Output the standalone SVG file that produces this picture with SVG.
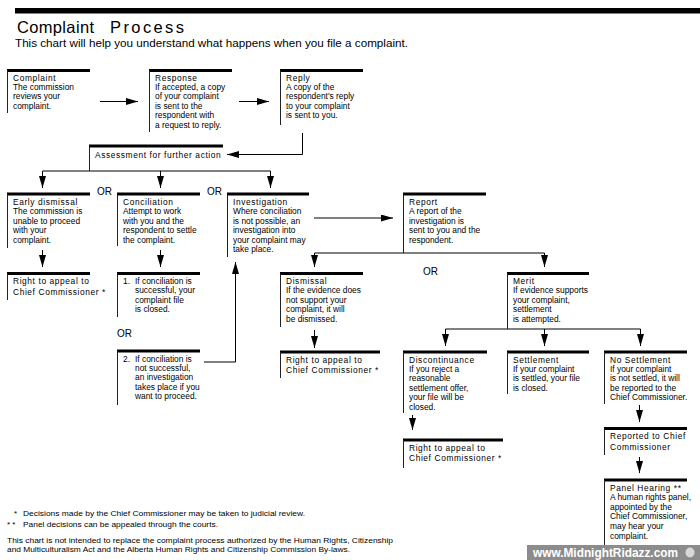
<svg xmlns="http://www.w3.org/2000/svg" width="700" height="560" viewBox="0 0 700 560">
<style>
.top{stroke:#000;stroke-width:3;fill:none}
.side{stroke:#222;stroke-width:1;fill:none}
.t{font-family:"Liberation Sans",Arial,sans-serif;font-size:8.4px;fill:#000}
.h{letter-spacing:0.6px}
.or{font-family:"Liberation Sans",Arial,sans-serif;font-size:10px;fill:#000}
.c{stroke:#000;stroke-width:1;fill:none}
.a{marker-end:url(#ah)}
.fn{font-family:"Liberation Sans",Arial,sans-serif;font-size:8px;fill:#000}
</style>
<defs>
<marker id="ah" markerWidth="12" markerHeight="7" refX="12" refY="3.5" orient="auto" markerUnits="userSpaceOnUse">
<path d="M0,0 L12,3.5 L0,7 z" fill="#000"/>
</marker>
</defs>
<rect width="700" height="560" fill="#fff"/>
<rect x="15" y="8" width="685" height="5.5" fill="#000"/>
<text x="17" y="32.5" font-family="'Liberation Sans',Arial,sans-serif" font-size="16.5" textLength="77" lengthAdjust="spacing">Complaint</text>
<text x="110" y="32.5" font-family="'Liberation Sans',Arial,sans-serif" font-size="16.5" textLength="74" lengthAdjust="spacing">Process</text>
<text x="15" y="46.5" font-family="'Liberation Sans',Arial,sans-serif" font-size="11" textLength="393" lengthAdjust="spacingAndGlyphs">This chart will help you understand what happens when you file a complaint.</text>

<g id="connectors">
<path class="c a" d="M100 101.5H138"/>
<path class="c a" d="M239 101.5H269"/>
<path class="c a" d="M302.5 133V154.5H227"/>
<path class="c" d="M42.5 171H270.5"/>
<path class="c a" d="M42.5 171V188"/>
<path class="c a" d="M160.5 171V188"/>
<path class="c a" d="M270.5 171V188"/>
<path class="c a" d="M42.5 250V267"/>
<path class="c a" d="M160.5 250V267"/>
<path class="c a" d="M204 362H235.5V262"/>
<path class="c a" d="M314 218H393"/>
<path class="c" d="M314.5 253H544.5"/>
<path class="c a" d="M314.5 253V267"/>
<path class="c a" d="M544.5 253V267"/>
<path class="c a" d="M314.5 330V348"/>
<path class="c" d="M445.5 329H640.5"/>
<path class="c a" d="M445.5 329V346"/>
<path class="c a" d="M544.5 329V346"/>
<path class="c a" d="M640.5 329V346"/>
<path class="c a" d="M412.5 415V430"/>
<path class="c a" d="M639.5 405V422"/>
<path class="c a" d="M639.5 457V473"/>
</g>

<g id="complaint">
<path class="top" d="M7 70.5H90"/><path class="side" d="M7.5 70.5V113"/>
<text class="t h" x="13" y="80.5">Complaint</text>
<text class="t"><tspan x="13" y="89.9">The commission</tspan><tspan x="13" y="99.3">reviews your</tspan><tspan x="13" y="108.7">complaint.</tspan></text>
</g>
<g id="response">
<path class="top" d="M149 70.5H232"/><path class="side" d="M149.5 70.5V132"/>
<text class="t h" x="155" y="80.5">Response</text>
<text class="t"><tspan x="155" y="89.9">If accepted, a copy</tspan><tspan x="155" y="99.3">of your complaint</tspan><tspan x="155" y="108.7">is sent to the</tspan><tspan x="155" y="118.1">respondent  with</tspan><tspan x="155" y="127.5">a request to reply.</tspan></text>
</g>
<g id="reply">
<path class="top" d="M280 70.5H363"/><path class="side" d="M280.5 70.5V125"/>
<text class="t h" x="286" y="80.5">Reply</text>
<text class="t"><tspan x="286" y="89.9">A copy of the</tspan><tspan x="286" y="99.3">respondent's reply</tspan><tspan x="286" y="108.7">to your complaint</tspan><tspan x="286" y="118.1">is sent to you.</tspan></text>
</g>
<g id="assessment">
<path class="top" d="M89 146H223"/><path class="side" d="M89.5 146V171"/>
<text class="t h" x="95" y="157.5">Assessment for further action</text>
</g>

<text class="or" x="97" y="195">OR</text>
<text class="or" x="207" y="195">OR</text>

<g id="early-dismissal">
<path class="top" d="M7 194H90"/><path class="side" d="M7.5 194V248"/>
<text class="t h" x="13" y="205">Early dismissal</text>
<text class="t"><tspan x="13" y="214.4">The commission is</tspan><tspan x="13" y="223.8">unable to proceed</tspan><tspan x="13" y="233.2">with  your</tspan><tspan x="13" y="242.6">complaint.</tspan></text>
</g>
<g id="conciliation">
<path class="top" d="M117 194H200"/><path class="side" d="M117.5 194V246"/>
<text class="t h" x="123" y="205">Conciliation</text>
<text class="t"><tspan x="123" y="214.4">Attempt to work</tspan><tspan x="123" y="223.8">with you and the</tspan><tspan x="123" y="233.2">respondent to settle</tspan><tspan x="123" y="242.6">the complaint.</tspan></text>
</g>
<g id="investigation">
<path class="top" d="M227 194H309"/><path class="side" d="M227.5 194V257"/>
<text class="t h" x="233" y="205">Investigation</text>
<text class="t"><tspan x="233" y="214.4">Where conciliation</tspan><tspan x="233" y="223.8">is not possible, an</tspan><tspan x="233" y="233.2">investigation into</tspan><tspan x="233" y="242.6">your complaint may</tspan><tspan x="233" y="252">take place.</tspan></text>
</g>
<g id="report">
<path class="top" d="M403 194H486"/><path class="side" d="M403.5 194V253"/>
<text class="t h" x="409" y="205">Report</text>
<text class="t"><tspan x="409" y="214.4">A report of the</tspan><tspan x="409" y="223.8">investigation is</tspan><tspan x="409" y="233.2">sent to you and the</tspan><tspan x="409" y="242.6">respondent.</tspan></text>
</g>

<g id="appeal-early">
<path class="top" d="M7 273.5H90"/><path class="side" d="M7.5 273.5V300"/>
<text class="t h" x="13" y="284">Right to appeal to</text>
<text class="t h" x="13" y="294.5">Chief Commissioner *</text>
</g>
<g id="conciliation-1">
<path class="top" d="M117 273.5H200"/><path class="side" d="M117.5 273.5V317"/>
<text class="t" x="123" y="284">1.</text>
<text class="t"><tspan x="135" y="284">If conciliation is</tspan><tspan x="135" y="293.4">successful, your</tspan><tspan x="135" y="302.8">complaint  file</tspan><tspan x="135" y="312.2">is closed.</tspan></text>
</g>
<text class="or" x="117" y="337">OR</text>
<g id="conciliation-2">
<path class="top" d="M117 351H200"/><path class="side" d="M117.5 351V405"/>
<text class="t" x="123" y="361.5">2.</text>
<text class="t"><tspan x="135" y="361.5">If conciliation is</tspan><tspan x="135" y="370.9">not successful,</tspan><tspan x="135" y="380.3">an investigation</tspan><tspan x="135" y="389.7">takes place if you</tspan><tspan x="135" y="399.1">want to proceed.</tspan></text>
</g>

<text class="or" x="423" y="274.5">OR</text>

<g id="dismissal">
<path class="top" d="M280 273.5H363"/><path class="side" d="M280.5 273.5V327"/>
<text class="t h" x="286" y="284">Dismissal</text>
<text class="t"><tspan x="286" y="293.4">If the evidence does</tspan><tspan x="286" y="302.8">not support  your</tspan><tspan x="286" y="312.2">complaint,  it  will</tspan><tspan x="286" y="321.6">be dismissed.</tspan></text>
</g>
<g id="merit">
<path class="top" d="M507 273.5H589"/><path class="side" d="M507.5 273.5V329"/>
<text class="t h" x="513" y="284">Merit</text>
<text class="t"><tspan x="513" y="293.4">If evidence supports</tspan><tspan x="513" y="302.8">your complaint,</tspan><tspan x="513" y="312.2">settlement</tspan><tspan x="513" y="321.6">is attempted.</tspan></text>
</g>

<g id="appeal-dismissal">
<path class="top" d="M280 352H380"/><path class="side" d="M280.5 352V378"/>
<text class="t h" x="286" y="362.5">Right to appeal to</text>
<text class="t h" x="286" y="373">Chief Commissioner *</text>
</g>
<g id="discontinuance">
<path class="top" d="M403 352H487"/><path class="side" d="M403.5 352V413"/>
<text class="t h" x="409" y="362.5">Discontinuance</text>
<text class="t"><tspan x="409" y="371.9">If you reject a</tspan><tspan x="409" y="381.3">reasonable</tspan><tspan x="409" y="390.7">settlement offer,</tspan><tspan x="409" y="400.1">your file will be</tspan><tspan x="409" y="409.5">closed.</tspan></text>
</g>
<g id="settlement">
<path class="top" d="M507 352H589"/><path class="side" d="M507.5 352V394"/>
<text class="t h" x="513" y="362.5">Settlement</text>
<text class="t"><tspan x="513" y="371.9">If your complaint</tspan><tspan x="513" y="381.3">is settled, your file</tspan><tspan x="513" y="390.7">is closed.</tspan></text>
</g>
<g id="no-settlement">
<path class="top" d="M604 352H687"/><path class="side" d="M604.5 352V404"/>
<text class="t h" x="610" y="362.5">No Settlement</text>
<text class="t"><tspan x="610" y="371.9">If your complaint</tspan><tspan x="610" y="381.3">is not settled, it will</tspan><tspan x="610" y="390.7">be reported to the</tspan><tspan x="610" y="400.1">Chief Commissioner.</tspan></text>
</g>
<g id="appeal-discontinuance">
<path class="top" d="M403 440H503"/><path class="side" d="M403.5 440V468"/>
<text class="t h" x="409" y="450.5">Right to appeal to</text>
<text class="t h" x="409" y="461">Chief Commissioner *</text>
</g>
<g id="reported">
<path class="top" d="M604 428.5H687"/><path class="side" d="M604.5 428.5V455"/>
<text class="t h" x="610" y="439">Reported to Chief</text>
<text class="t h" x="610" y="449.5">Commissioner</text>
</g>
<g id="panel-hearing">
<path class="top" d="M604 480H687"/><path class="side" d="M604.5 480V560"/>
<text class="t h" x="610" y="490.5">Panel Hearing **</text>
<text class="t"><tspan x="610" y="500.1">A human rights panel,</tspan><tspan x="610" y="509.7">appointed by the</tspan><tspan x="610" y="519.3">Chief Commissioner,</tspan><tspan x="610" y="528.9">may hear your</tspan><tspan x="610" y="538.5">complaint.</tspan></text>
</g>

<g id="footnotes">
<text class="fn" x="14" y="516">*</text>
<text class="fn" x="23" y="516" textLength="282" lengthAdjust="spacingAndGlyphs">Decisions made by the Chief Commissioner may be taken to judicial review.</text>
<text class="fn" x="7" y="527">* *</text>
<text class="fn" x="23" y="527" textLength="195" lengthAdjust="spacingAndGlyphs">Panel decisions can be appealed through the courts.</text>
<text class="fn" x="7" y="543" textLength="386" lengthAdjust="spacingAndGlyphs">This chart is not intended to replace the complaint process authorized by the Human Rights, Citizenship</text>
<text class="fn" x="7" y="552" textLength="343" lengthAdjust="spacingAndGlyphs">and Multiculturalism Act and the Alberta Human Rights and Citizenship Commission By-laws.</text>
</g>

<g id="watermark">
<rect x="527" y="545" width="173" height="15" fill="#8c8c8c"/>
<text x="533" y="557" font-family="'Liberation Sans',Arial,sans-serif" font-size="12.5" font-weight="bold" fill="#fff" textLength="145" lengthAdjust="spacingAndGlyphs">www.MidnightRidazz.com</text>
<ellipse cx="690" cy="552.5" rx="4.5" ry="5" fill="#d8d8d8"/>
</g>
</svg>
